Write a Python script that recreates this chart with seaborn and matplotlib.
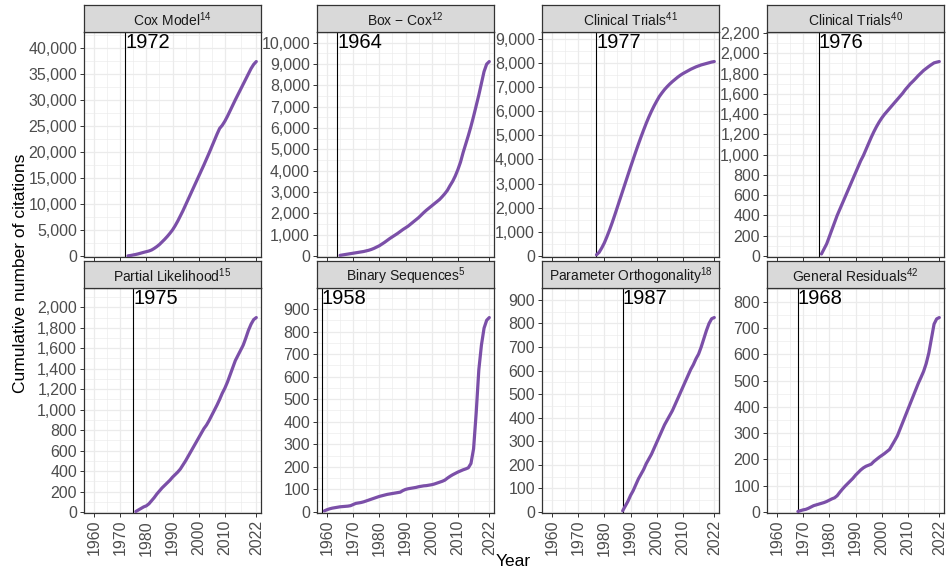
import numpy as np
import pandas as pd
import matplotlib
matplotlib.use("Agg")
import matplotlib.pyplot as plt
import seaborn as sns
from matplotlib.ticker import FuncFormatter, FixedLocator

# ---- data -------------------------------------------------------------
titles = ["Cox Model", "Box \u2212 Cox", "Clinical Trials", "Clinical Trials",
          "Partial Likelihood", "Binary Sequences", "Parameter Orthogonality",
          "General Residuals"]
refs = ["14", "12", "41", "40", "15", "5", "18", "42"]
pub_years = [1972, 1964, 1977, 1976, 1975, 1958, 1987, 1968]
first_years = [1973, 1965, 1977, 1977, 1976, 1959, 1987, 1968]
y_steps = [5000, 1000, 1000, 200, 200, 100, 100, 100]

cox_model = [30, 100, 200, 300, 420, 560, 700, 830, 960, 1150,
             1450, 1800, 2200, 2700, 3200, 3750, 4350, 5000, 5800, 6700,
             7700, 8700, 9800, 10900, 12000, 13100, 14200, 15300, 16400, 17500,
             18650, 19800, 21000, 22200, 23400, 24500, 25100, 25900, 26850, 27900,
             28950, 30000, 31000, 32000, 33000, 34000, 35000, 36000, 36800, 37350]
box_cox = [30, 50, 70, 90, 110, 130, 150, 170, 190, 210,
           240, 270, 310, 360, 420, 480, 560, 640, 730, 820,
           900, 980, 1060, 1150, 1240, 1320, 1400, 1500, 1600, 1700,
           1800, 1920, 2040, 2150, 2250, 2350, 2450, 2550, 2650, 2780,
           2920, 3080, 3300, 3500, 3750, 4050, 4400, 4850, 5250, 5650,
           6080, 6550, 7050, 7550, 8100, 8650, 9000, 9120]
clinical_trials_41 = [50, 150, 330, 540, 800, 1080, 1380, 1700, 2030, 2360,
                      2690, 3020, 3350, 3680, 4000, 4320, 4630, 4930, 5220, 5500,
                      5760, 6000, 6220, 6420, 6610, 6760, 6900, 7020, 7130, 7230,
                      7320, 7410, 7490, 7560, 7620, 7680, 7740, 7790, 7840, 7880,
                      7920, 7950, 7980, 8010, 8040, 8060]
clinical_trials_40 = [20, 70, 120, 190, 260, 330, 400, 460, 520, 580,
                      640, 700, 760, 820, 880, 940, 990, 1050, 1110, 1170,
                      1225, 1275, 1320, 1360, 1395, 1425, 1455, 1485, 1515, 1545,
                      1575, 1605, 1640, 1670, 1700, 1725, 1752, 1780, 1805, 1830,
                      1850, 1870, 1888, 1905, 1912, 1918]
partial_likelihood = [5, 20, 35, 50, 60, 80, 110, 140, 175, 205,
                      235, 260, 285, 310, 340, 365, 390, 420, 460, 500,
                      545, 590, 635, 680, 725, 770, 815, 850, 895, 945,
                      995, 1045, 1100, 1160, 1210, 1270, 1340, 1410, 1480, 1530,
                      1580, 1630, 1700, 1775, 1835, 1880, 1900]
binary_sequences = [5, 10, 14, 17, 19, 21, 23, 24, 25, 26,
                    28, 33, 38, 40, 42, 45, 49, 53, 57, 61,
                    65, 69, 72, 75, 78, 80, 82, 84, 86, 88,
                    95, 100, 103, 105, 107, 109, 112, 114, 116, 117,
                    119, 121, 124, 128, 132, 136, 141, 150, 158, 165,
                    171, 177, 182, 187, 191, 196, 215, 280, 440, 630,
                    740, 815, 850, 862]
parameter_orthogonality = [5, 25, 45, 70, 90, 115, 140, 160, 180, 205,
                           225, 245, 270, 295, 320, 345, 370, 390, 410, 430,
                           455, 480, 505, 530, 555, 580, 605, 625, 650, 670,
                           700, 735, 770, 800, 820, 825]
general_residuals = [2, 5, 8, 10, 14, 19, 24, 27, 30, 33,
                     36, 40, 45, 50, 54, 62, 75, 87, 98, 108,
                     118, 128, 140, 150, 160, 168, 174, 178, 182, 192,
                     200, 208, 215, 222, 230, 238, 255, 272, 290, 315,
                     340, 365, 390, 415, 440, 465, 490, 512, 535, 565,
                     605, 660, 715, 735, 740]

series = [cox_model, box_cox, clinical_trials_41, clinical_trials_40,
          partial_likelihood, binary_sequences, parameter_orthogonality,
          general_residuals]

x_ticks = [1960, 1970, 1980, 1990, 2000, 2010, 2022]
x_minor = [1965, 1975, 1985, 1995, 2005, 2016]

# ---- style ------------------------------------------------------------
sns.set_theme(style="whitegrid")
plt.rcParams["font.family"] = ["Liberation Sans", "DejaVu Sans"]
plt.rcParams["mathtext.fontset"] = "custom"
plt.rcParams["mathtext.rm"] = "Liberation Sans"
plt.rcParams["mathtext.default"] = "regular"

LINE = "#7b4fa8"
BORDER = "#333333"
GRID = "#ebebeb"
TICKTXT = "#4d4d4d"

W, H = 952, 572
fig = plt.figure(figsize=(W / 100, H / 100), dpi=100)
fig.patch.set_facecolor("white")

col_left = [84, 317, 542, 767]
panel_w = 177
row_top = [32, 288]
panel_h = 225
strip_h = 27

fmt = FuncFormatter(lambda v, p: f"{int(round(v)):,}")

for i, (vals, title, ref, pub, first, step) in enumerate(
        zip(series, titles, refs, pub_years, first_years, y_steps)):
    r, c = divmod(i, 4)
    left = col_left[c] / W
    bottom = 1 - (row_top[r] + panel_h) / H
    ax = fig.add_axes([left, bottom, panel_w / W, panel_h / H])

    df = pd.DataFrame({"year": np.arange(first, first + len(vals)),
                       "citations": vals})
    sns.lineplot(data=df, x="year", y="citations", ax=ax, color=LINE,
                 linewidth=2.3, zorder=3)
    ax.axvline(pub, color="black", linewidth=0.8, zorder=2)

    ymax = max(vals)
    top = ymax * 1.152
    ax.set_ylim(-0.0045 * top, top)
    ax.set_xlim(1956.2, 2023.8)

    ax.text(pub, ymax * 1.1, str(pub), ha="left", va="center",
            fontsize=14.5, color="black", zorder=4)

    yt = np.arange(0, top + 1e-9, step)
    ax.yaxis.set_major_locator(FixedLocator(yt))
    ax.yaxis.set_minor_locator(FixedLocator(yt + step / 2))
    ax.yaxis.set_major_formatter(fmt)
    ax.xaxis.set_major_locator(FixedLocator(x_ticks))
    ax.xaxis.set_minor_locator(FixedLocator(x_minor))
    ax.set_xticklabels([str(t) for t in x_ticks] if r == 1 else [])

    ax.grid(which="major", color=GRID, linewidth=0.9)
    ax.grid(which="minor", color=GRID, linewidth=0.45)
    ax.set_axisbelow(True)
    ax.set_facecolor("white")
    for s in ax.spines.values():
        s.set_visible(True)
        s.set_color(BORDER)
        s.set_linewidth(0.9)
    ax.tick_params(axis="both", which="major", length=3, width=0.7,
                   color=BORDER, labelsize=11.5, labelcolor=TICKTXT, pad=2,
                   bottom=True, left=True)
    ax.tick_params(axis="x", which="major", labelrotation=90)
    ax.tick_params(which="minor", length=0)
    ax.set_xlabel("")
    ax.set_ylabel("")

    # facet strip
    sax = fig.add_axes([left, 1 - row_top[r] / H, panel_w / W, strip_h / H])
    sax.set_facecolor("#d9d9d9")
    sax.set_xticks([])
    sax.set_yticks([])
    sax.grid(False)
    for s in sax.spines.values():
        s.set_visible(True)
        s.set_color(BORDER)
        s.set_linewidth(0.9)
    sax.text(0.5, 0.45, f"{title}$^{{{ref}}}$", ha="center", va="center",
             fontsize=10, color="#1a1a1a", transform=sax.transAxes)

fig.text(21 / W, 1 - 273 / H, "Cumulative number of citations",
         rotation=90, ha="center", va="center", fontsize=12.5, color="black")
fig.text(513 / W, 1 - 561 / H, "Year", ha="center", va="center",
         fontsize=12.5, color="black")

fig.savefig("out.png", dpi=100, facecolor="white")
